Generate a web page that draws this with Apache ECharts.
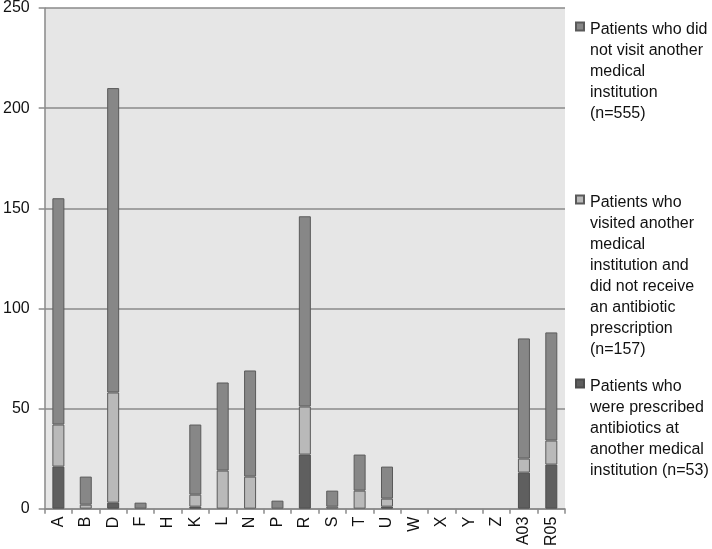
<!DOCTYPE html>
<html><head><meta charset="utf-8">
<script src="https://cdn.jsdelivr.net/npm/echarts@6/dist/echarts.min.js"></script>
<style>html,body{margin:0;padding:0;background:#fff}#c{width:712px;height:549px}</style>
</head><body><div id="c"></div>
<script>
var categories = ['A','B','D','F','H','K','L','N','P','R','S','T','U','W','X','Y','Z','A03','R05'];
var prescribedElsewhere = [21, null, 3, null, null, 1, null, null, null, 27, null, null, 1, null, null, null, null, 18, 22];
var visitedNoAntibiotic = [21, 2, 55, null, null, 6, 19, 16, null, 24, 1, 9, 4, null, null, null, null, 7, 12];
var didNotVisit = [113, 14, 152, 3, null, 35, 44, 53, 4, 95, 8, 18, 16, null, null, null, null, 60, 54];
var yTicks = [0, 50, 100, 150, 200, 250];
var names = [
  'Patients who did not visit another medical institution (n=555)',
  'Patients who visited another medical institution and did not receive an antibiotic prescription (n=157)',
  'Patients who were prescribed antibiotics at another medical institution (n=53)'
];
var wrapped = [
  'Patients who did\nnot visit another\nmedical\ninstitution\n(n=555)',
  'Patients who\nvisited another\nmedical\ninstitution and\ndid not receive\nan antibiotic\nprescription\n(n=157)',
  'Patients who\nwere prescribed\nantibiotics at\nanother medical\ninstitution (n=53)'
];
var LH = 21;
var FONT = 'Liberation Sans, Arial, sans-serif';
var firstLineCenters = [30, 203, 387];
function legendFor(i) {
  return {
    data: [names[i]], left: 575, top: firstLineCenters[i] - 8.5, orient: 'vertical',
    icon: 'rect', itemWidth: 8, itemHeight: 8, itemGap: 0,
    selectedMode: false, padding: 0,
    formatter: function () { return ''; }
  };
}
var chart = echarts.init(document.getElementById('c'));
chart.setOption({
  animation: false,
  textStyle: { fontFamily: FONT },
  legend: [legendFor(0), legendFor(1), legendFor(2)],
  graphic: wrapped.map(function (t, i) {
    return {
      type: 'text', left: 590, top: firstLineCenters[i] - LH / 2, silent: true,
      style: { text: t, font: '16px ' + FONT, lineHeight: LH, fill: '#111', verticalAlign: 'top' }
    };
  }),
  grid: { left: 41, right: 147, top: 4, bottom: 40, show: true, backgroundColor: '#e6e6e6', borderWidth: 0 },
  xAxis: {
    type: 'category', data: categories,
    axisLine: { lineStyle: { color: '#8a8a8a', width: 1.5 } },
    axisTick: { show: true, length: 5, lineStyle: { color: '#8a8a8a', width: 1.5 } },
    axisLabel: { rotate: 90, fontSize: 16, color: '#111', margin: 8, interval: 0 }
  },
  yAxis: {
    type: 'value', min: yTicks[0], max: yTicks[yTicks.length - 1], interval: 50,
    axisLine: { show: true, lineStyle: { color: '#8a8a8a', width: 1.5 } },
    axisTick: { show: true, length: 6, lineStyle: { color: '#8a8a8a', width: 1.5 } },
    axisLabel: { fontSize: 16, color: '#111', margin: 15 },
    splitLine: { lineStyle: { color: '#8a8a8a', width: 1.5 } }
  },
  series: [
    { name: names[2], type: 'bar', stack: 's', data: prescribedElsewhere, barWidth: 12,
      itemStyle: { color: '#5f5f5f', borderColor: '#4d4d4d', borderWidth: 1 } },
    { name: names[1], type: 'bar', stack: 's', data: visitedNoAntibiotic, barWidth: 12,
      itemStyle: { color: '#b9b9b9', borderColor: '#5a5a5a', borderWidth: 1 } },
    { name: names[0], type: 'bar', stack: 's', data: didNotVisit, barWidth: 12,
      itemStyle: { color: '#878787', borderColor: '#5a5a5a', borderWidth: 1 } }
  ]
});
</script></body></html>
